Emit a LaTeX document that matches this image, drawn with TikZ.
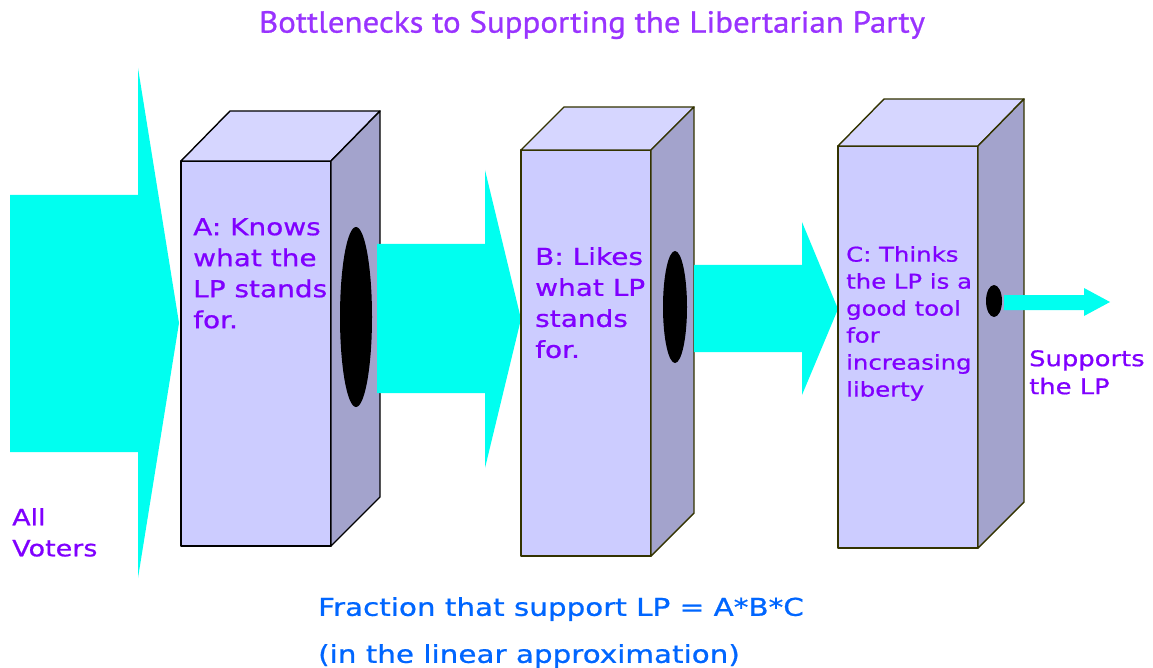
\documentclass[tikz,border=0pt]{standalone}
\usepackage{fontspec}
\setmainfont{DejaVu Sans}[FakeStretch=1.2,FakeBold=0.8]
\newfontfamily\titlefont{PT Sans}[FakeStretch=1.08,FakeBold=0.8]
\definecolor{lptext}{HTML}{8000FF}
\definecolor{lptitle}{HTML}{9933FF}
\definecolor{lpblue}{HTML}{0066FF}
\definecolor{flowcyan}{HTML}{00FFF0}
\definecolor{boxfront}{HTML}{CCCCFF}
\definecolor{boxtop}{HTML}{D6D6FF}
\definecolor{boxside}{HTML}{A3A3CC}
\definecolor{boxedge}{HTML}{333300}
\begin{document}
\begin{tikzpicture}[x=1pt,y=-1pt,
  flow/.style={fill=flowcyan},
  face/.style={draw=#1,line width=1.4pt,line join=round},
  hole/.style={fill=black},
  lbl/.style={text=lptext,anchor=north west,inner sep=0pt,align=left}]
\useasboundingbox (0,0) rectangle (1153,668);
\node[text=lptitle,font=\titlefont\fontsize{30.5}{32}\selectfont] (title) at (592,25) {Bottlenecks to Supporting the Libertarian Party};
% all voters
\fill[flow] (10,195)--(138,195)--(138,68)--(179,323)--(138,578)--(138,452)--(10,452)--cycle;
% box A
\draw[face=black,fill=boxfront] (181,161) rectangle (331,546);
\draw[face=black,fill=boxtop] (181,161)--(230,111)--(380,111)--(331,161)--cycle;
\draw[face=black,fill=boxside] (331,161)--(380,111)--(380,497)--(331,546)--cycle;
\fill[hole] (356,317) ellipse [x radius=16,y radius=90];
\fill[flow] (377,244)--(485,244)--(485,170)--(521,319)--(485,468)--(485,393)--(377,393)--cycle;
% box B
\draw[face=boxedge,fill=boxfront] (521,150) rectangle (651,556);
\draw[face=boxedge,fill=boxtop] (521,150)--(564,107)--(694,107)--(651,150)--cycle;
\draw[face=boxedge,fill=boxside] (651,150)--(694,107)--(694,513)--(651,556)--cycle;
\fill[hole] (675,307) ellipse [x radius=12,y radius=56];
\fill[flow] (694,265)--(802,265)--(802,222)--(838,309)--(802,395)--(802,352)--(694,352)--cycle;
% box C
\draw[face=boxedge,fill=boxfront] (838,146) rectangle (978,548);
\draw[face=boxedge,fill=boxtop] (838,146)--(884,99)--(1024,99)--(978,146)--cycle;
\draw[face=boxedge,fill=boxside] (978,146)--(1024,99)--(1024,502)--(978,548)--cycle;
\fill[hole] (994,301) ellipse [x radius=8,y radius=16];
\fill[flow] (1004,295)--(1084,295)--(1084,288)--(1110,302)--(1084,316)--(1084,310)--(1004,310)--cycle;
% labels
\node[lbl,font=\fontsize{23.3}{31}\selectfont] (labelA) at (193,218) {A: Knows\\what the\\LP stands\\for.};
\node[lbl,font=\fontsize{23.3}{31}\selectfont] (labelB) at (535,247) {B: Likes\\what LP\\stands\\for.};
\node[lbl,font=\fontsize{20.3}{27}\selectfont] (labelC) at (846,246) {C: Thinks\\the LP is a\\good tool\\for\\increasing\\liberty};
\node[lbl,font=\fontsize{22.5}{31}\selectfont] (voters) at (12,508) {All\\Voters};
\node[lbl,font=\fontsize{21.5}{28}\selectfont] (supports) at (1029,350) {Supports\\the LP};
\node[lbl,text=lpblue,font=\fontsize{24.5}{47}\selectfont] (formula) at (318,597) {Fraction that support LP = A*B*C\\(in the linear approximation)};
\end{tikzpicture}
\end{document}
